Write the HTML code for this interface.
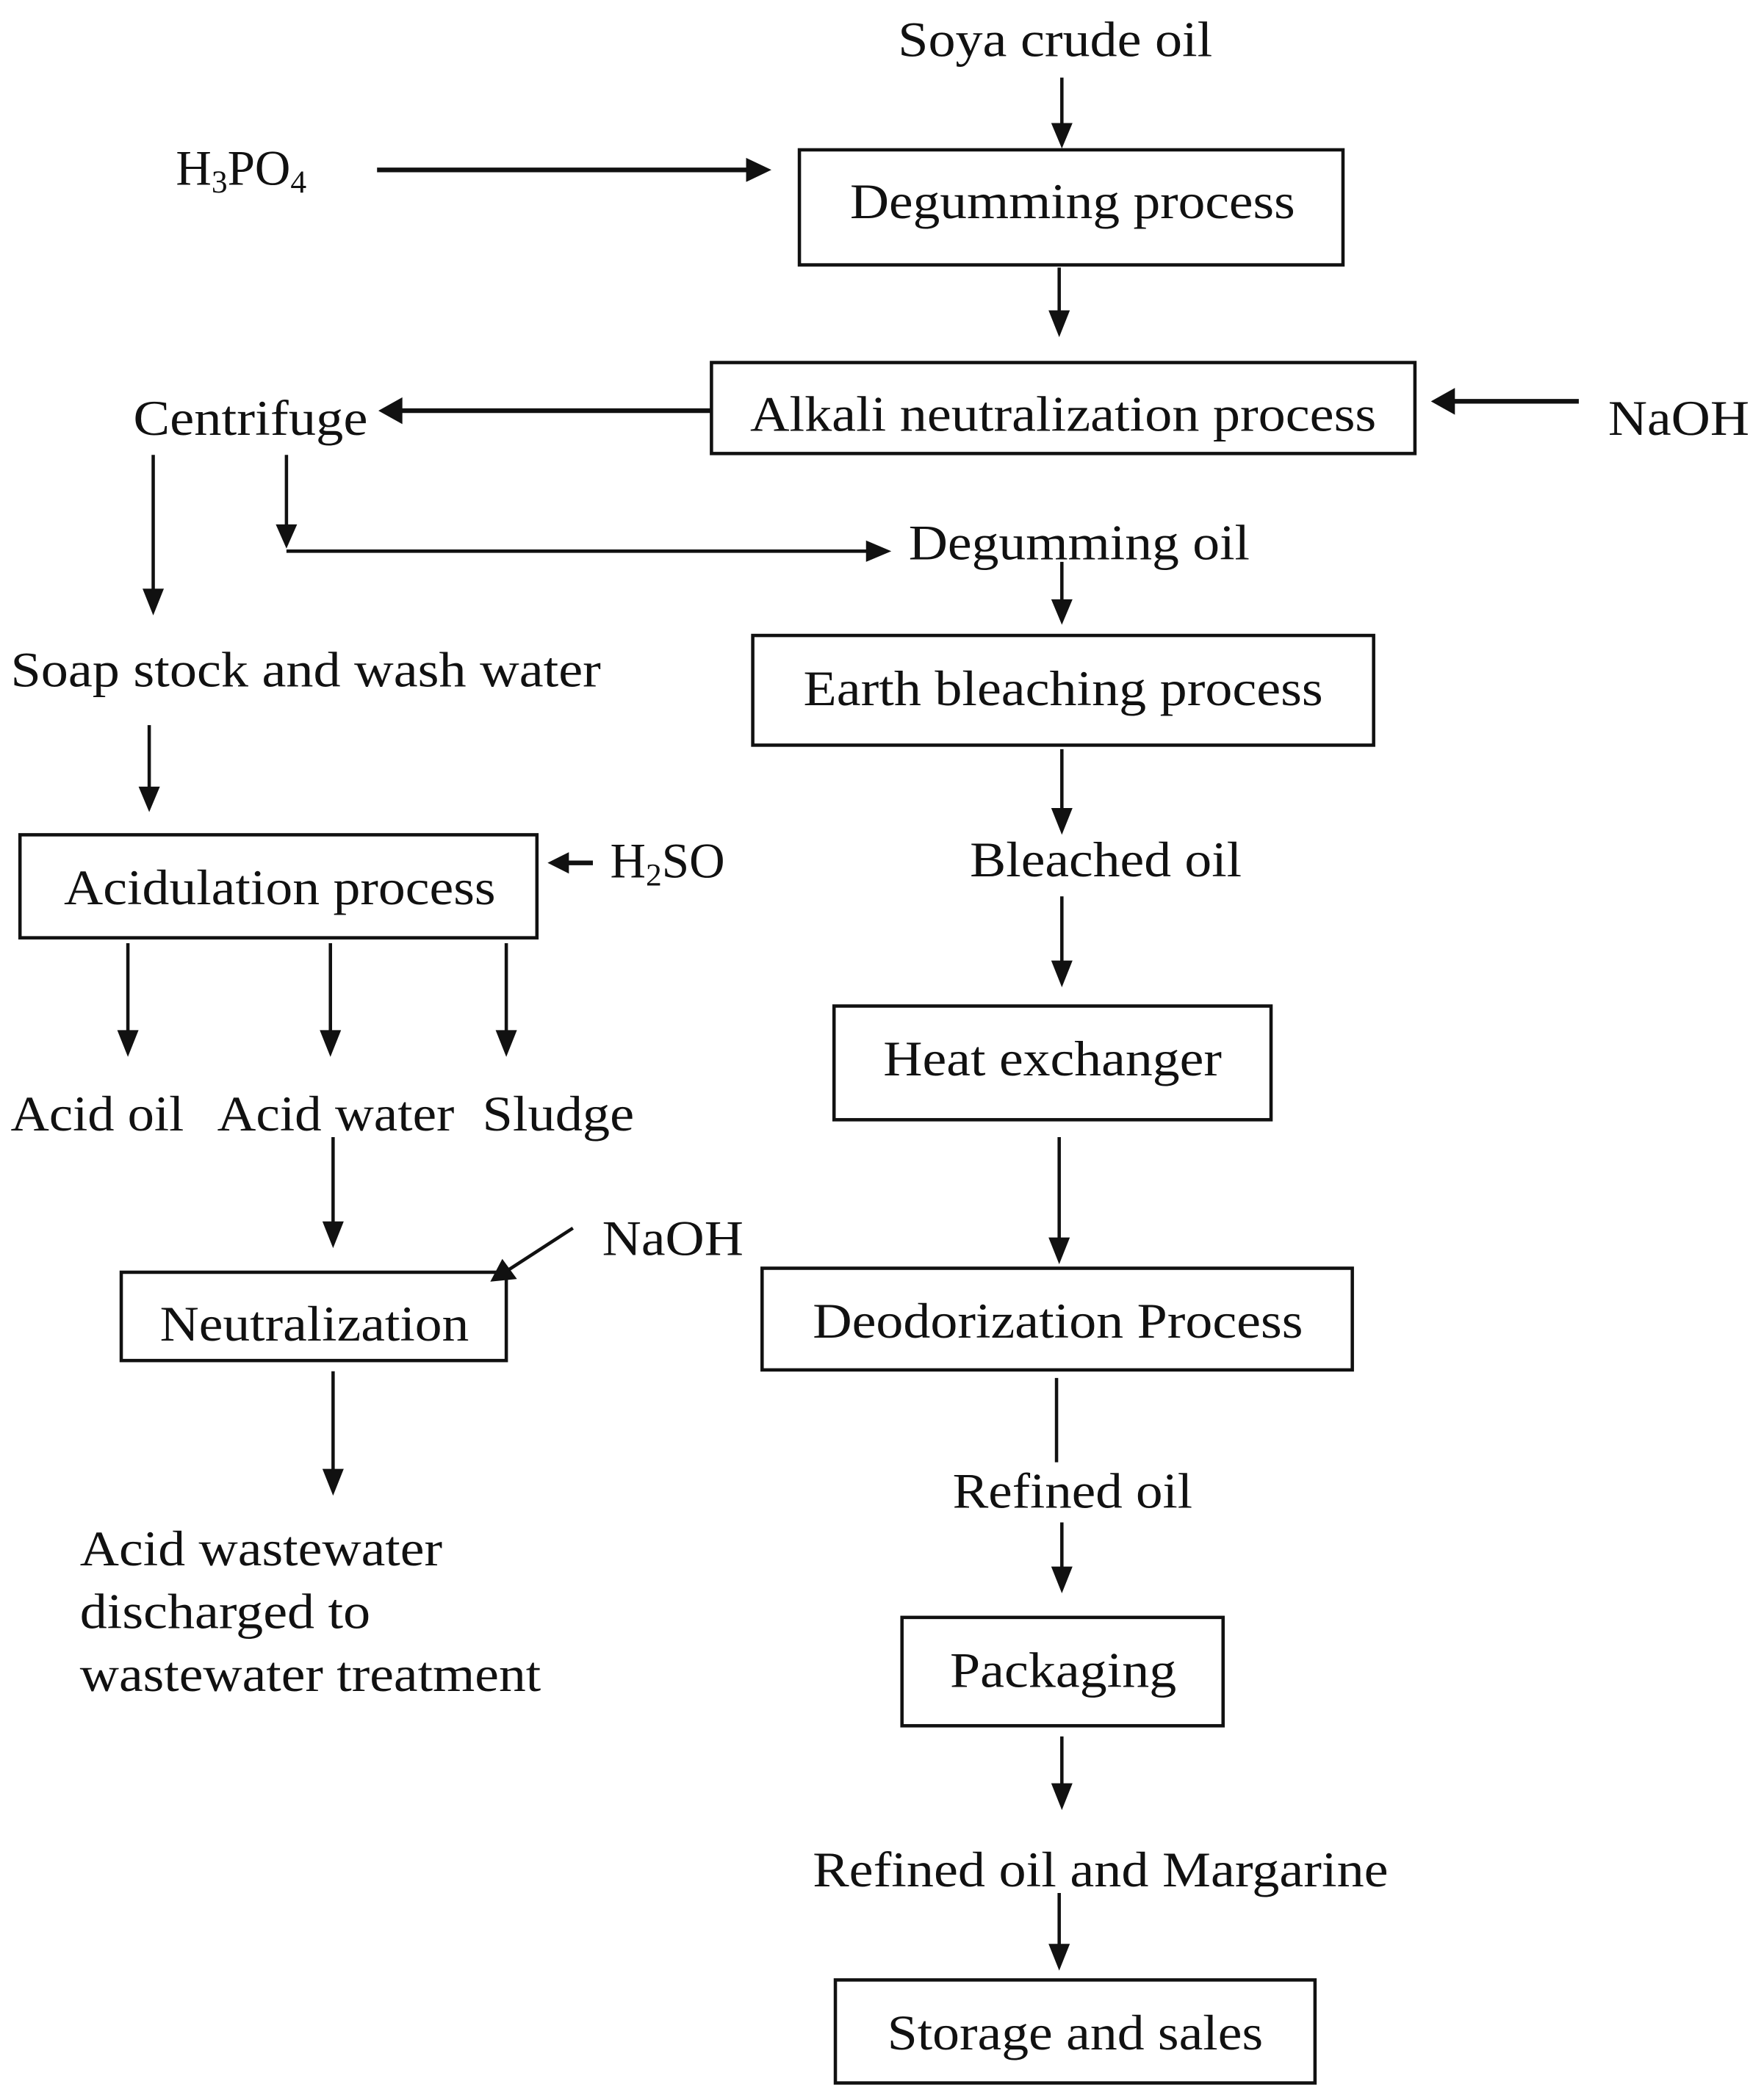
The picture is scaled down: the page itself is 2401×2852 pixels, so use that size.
<!DOCTYPE html>
<html><head><meta charset="utf-8"><style>
html,body{margin:0;padding:0;background:#fff}
svg{display:block}
text{font-family:"Liberation Serif",serif;font-size:37px;fill:#111}
</style></head><body>
<svg width="2401" height="2852" viewBox="0 0 1324 1566" preserveAspectRatio="none" xmlns="http://www.w3.org/2000/svg">
<g fill="none" stroke="#111" stroke-width="2.5">
<rect x="600" y="112" width="408" height="86"/>
<rect x="534" y="271" width="528" height="68"/>
<rect x="565" y="475" width="466" height="82"/>
<rect x="626" y="752" width="328" height="85"/>
<rect x="572" y="948" width="443" height="76"/>
<rect x="677" y="1209" width="241" height="81"/>
<rect x="627" y="1480" width="360" height="77"/>
<rect x="15" y="624" width="388" height="77"/>
<rect x="91" y="951" width="289" height="66"/>
<line x1="797" y1="58" x2="797" y2="94"/>
<line x1="283" y1="127" x2="562" y2="127" stroke-width="3.5"/>
<line x1="795" y1="200" x2="795" y2="234"/>
<line x1="1185" y1="300" x2="1090" y2="300" stroke-width="3.5"/>
<line x1="534" y1="307" x2="300" y2="307" stroke-width="3.5"/>
<line x1="115" y1="340" x2="115" y2="442"/>
<line x1="215" y1="340" x2="215" y2="394"/>
<line x1="215" y1="412" x2="652" y2="412"/>
<line x1="797" y1="420" x2="797" y2="450"/>
<line x1="112" y1="542" x2="112" y2="590"/>
<line x1="797" y1="560" x2="797" y2="606"/>
<line x1="797" y1="670" x2="797" y2="720"/>
<line x1="795" y1="850" x2="795" y2="927"/>
<line x1="793" y1="1030" x2="793" y2="1093"/>
<line x1="797" y1="1138" x2="797" y2="1173"/>
<line x1="797" y1="1298" x2="797" y2="1335"/>
<line x1="795" y1="1415" x2="795" y2="1455"/>
<line x1="445" y1="645" x2="425" y2="645" stroke-width="3.5"/>
<line x1="96" y1="705" x2="96" y2="772"/>
<line x1="248" y1="705" x2="248" y2="772"/>
<line x1="380" y1="705" x2="380" y2="772"/>
<line x1="250" y1="850" x2="250" y2="915"/>
<line x1="430" y1="918" x2="382" y2="949"/>
<line x1="250" y1="1025" x2="250" y2="1100"/>
</g>
<g fill="#111">
<polygon points="789,92 805,92 797,111"/>
<polygon points="560,118 560,136 579,127"/>
<polygon points="787,232 803,232 795,252"/>
<polygon points="1092,290 1092,310 1074,300"/>
<polygon points="302,297 302,317 284,307"/>
<polygon points="107,440 123,440 115,460"/>
<polygon points="207,392 223,392 215,410"/>
<polygon points="650,404 650,420 669,412"/>
<polygon points="789,448 805,448 797,467"/>
<polygon points="104,588 120,588 112,607"/>
<polygon points="789,604 805,604 797,624"/>
<polygon points="789,718 805,718 797,738"/>
<polygon points="787,925 803,925 795,945"/>
<polygon points="789,1171 805,1171 797,1191"/>
<polygon points="789,1333 805,1333 797,1353"/>
<polygon points="787,1453 803,1453 795,1473"/>
<polygon points="427,637 427,653 411,645"/>
<polygon points="88,770 104,770 96,790"/>
<polygon points="240,770 256,770 248,790"/>
<polygon points="372,770 388,770 380,790"/>
<polygon points="242,913 258,913 250,933"/>
<polygon points="368,958 388,956 377,941"/>
<polygon points="242,1098 258,1098 250,1118"/>
</g>
<text x="792" y="42" text-anchor="middle" textLength="236" lengthAdjust="spacingAndGlyphs">Soya crude oil</text>
<text x="132" y="138">H<tspan font-size="24" dy="6">3</tspan><tspan dy="-6">PO</tspan><tspan font-size="24" dy="6">4</tspan></text>
<text x="805" y="163" text-anchor="middle" textLength="334" lengthAdjust="spacingAndGlyphs">Degumming process</text>
<text x="798" y="322" text-anchor="middle" textLength="470" lengthAdjust="spacingAndGlyphs">Alkali neutralization process</text>
<text x="1207" y="325" textLength="106" lengthAdjust="spacingAndGlyphs">NaOH</text>
<text x="100" y="325" textLength="176" lengthAdjust="spacingAndGlyphs">Centrifuge</text>
<text x="682" y="418" textLength="256" lengthAdjust="spacingAndGlyphs">Degumming oil</text>
<text x="8" y="513" textLength="443" lengthAdjust="spacingAndGlyphs">Soap stock and wash water</text>
<text x="798" y="527" text-anchor="middle" textLength="390" lengthAdjust="spacingAndGlyphs">Earth bleaching process</text>
<text x="830" y="655" text-anchor="middle" textLength="204" lengthAdjust="spacingAndGlyphs">Bleached oil</text>
<text x="458" y="656">H<tspan font-size="24" dy="6">2</tspan><tspan dy="-6">SO</tspan></text>
<text x="210" y="676" text-anchor="middle" textLength="324" lengthAdjust="spacingAndGlyphs">Acidulation process</text>
<text x="790" y="804" text-anchor="middle" textLength="254" lengthAdjust="spacingAndGlyphs">Heat exchanger</text>
<text x="8" y="845" textLength="130" lengthAdjust="spacingAndGlyphs">Acid oil</text>
<text x="163" y="845" textLength="178" lengthAdjust="spacingAndGlyphs">Acid water</text>
<text x="362" y="845" textLength="114" lengthAdjust="spacingAndGlyphs">Sludge</text>
<text x="452" y="938" textLength="106" lengthAdjust="spacingAndGlyphs">NaOH</text>
<text x="794" y="1000" text-anchor="middle" textLength="368" lengthAdjust="spacingAndGlyphs">Deodorization Process</text>
<text x="236" y="1002" text-anchor="middle" textLength="232" lengthAdjust="spacingAndGlyphs">Neutralization</text>
<text x="805" y="1127" text-anchor="middle" textLength="180" lengthAdjust="spacingAndGlyphs">Refined oil</text>
<text x="60" y="1170" textLength="272" lengthAdjust="spacingAndGlyphs">Acid wastewater</text>
<text x="60" y="1217" textLength="218" lengthAdjust="spacingAndGlyphs">discharged to</text>
<text x="60" y="1264" textLength="346" lengthAdjust="spacingAndGlyphs">wastewater treatment</text>
<text x="798" y="1261" text-anchor="middle" textLength="170" lengthAdjust="spacingAndGlyphs">Packaging</text>
<text x="826" y="1410" text-anchor="middle" textLength="432" lengthAdjust="spacingAndGlyphs">Refined oil and Margarine</text>
<text x="807" y="1532" text-anchor="middle" textLength="282" lengthAdjust="spacingAndGlyphs">Storage and sales</text>
</svg>
</body></html>
